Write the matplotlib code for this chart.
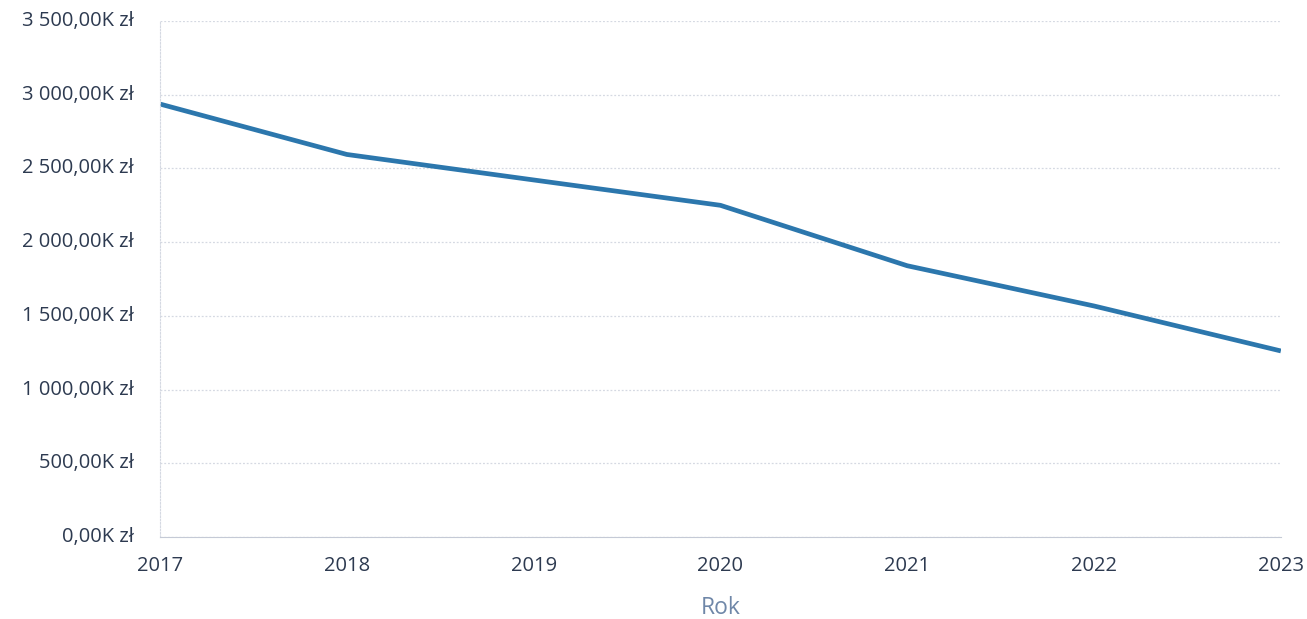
import matplotlib.pyplot as plt
from matplotlib.ticker import FuncFormatter, MultipleLocator

plt.rcParams['font.family'] = ['Open Sans', 'DejaVu Sans']

# wartości w tysiącach zł
lata = [2017, 2018, 2019, 2020, 2021, 2022, 2023]
wartosci = [2937, 2595, 2422, 2250, 1840, 1567, 1262]


def pln(v, pos):
    s = f"{v:,.2f}".replace(",", " ").replace(".", ",")
    return s + "K zł"


fig = plt.figure(figsize=(13.07, 6.19), dpi=100)
ax = fig.add_axes([0.1224, 0.1325, 0.8576, 0.8335])

ax.plot(lata, wartosci, color='#2c77ad', linewidth=3.4, solid_capstyle='butt')

ax.set_xlim(2017, 2023)
ax.set_ylim(0, 3500)
ax.yaxis.set_major_locator(MultipleLocator(500))
ax.yaxis.set_major_formatter(FuncFormatter(pln))
ax.set_xticks(lata)

ax.grid(axis='y', color='#d5d9e2', linestyle=(0, (1.5, 1.5)), linewidth=0.9)
for s in ['top', 'right']:
    ax.spines[s].set_visible(False)
ax.spines['left'].set_color('#d5d9e2')
ax.spines['left'].set_linestyle((0, (1.5, 1.5)))
ax.spines['bottom'].set_color('#c5cad6')
ax.spines['bottom'].set_linestyle((0, (2, 1)))

ax.tick_params(axis='both', length=0, labelsize=14.5, labelcolor='#2d3a50')
ax.tick_params(axis='y', pad=19)
ax.tick_params(axis='x', pad=14)
for lbl in ax.get_yticklabels():
    lbl.set_verticalalignment('center')

ax.set_xlabel('Rok', fontsize=16.5, color='#6f87a8', labelpad=14)

fig.savefig('out.png', dpi=100, facecolor='white')
